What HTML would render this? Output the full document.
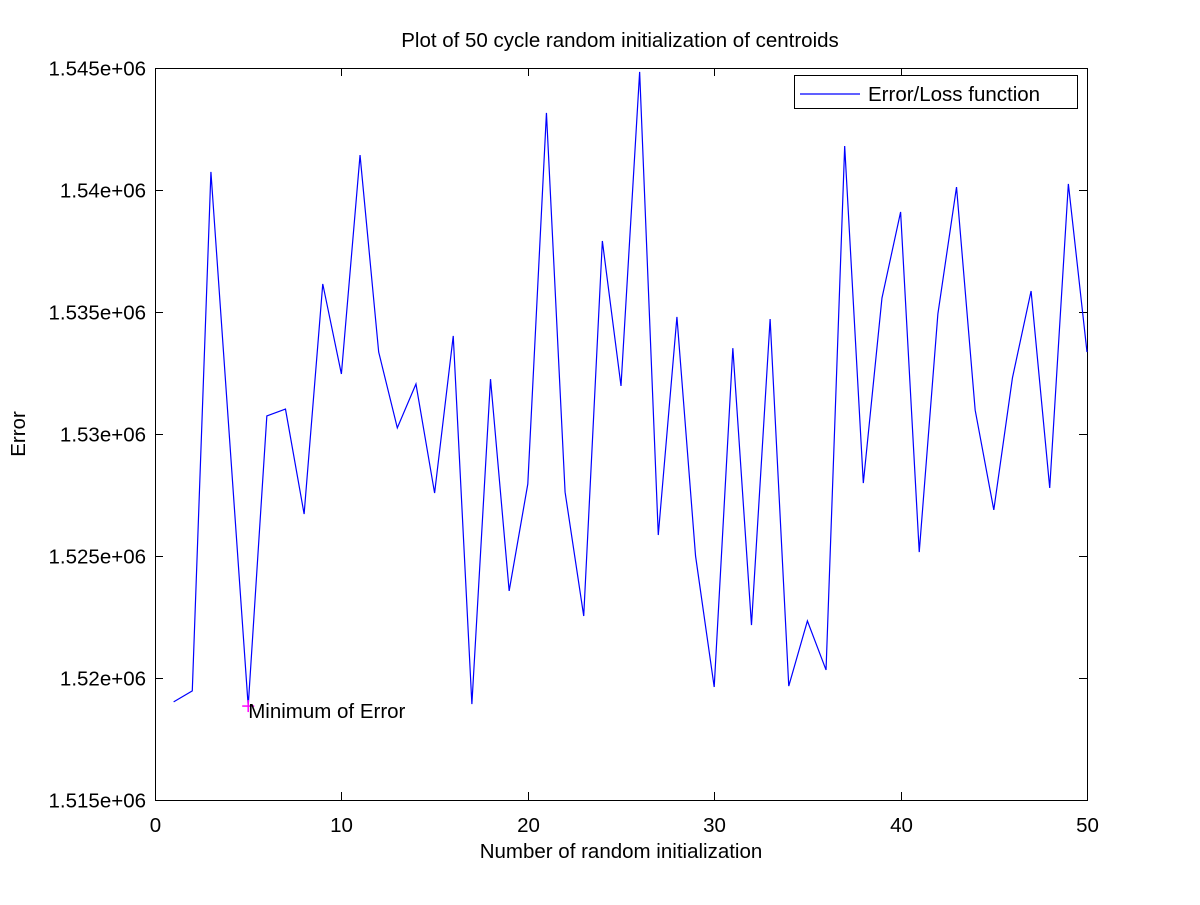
<!DOCTYPE html>
<html><head><meta charset="utf-8"><style>
body{margin:0;background:#fff}
svg text{font-family:"Liberation Sans",sans-serif;fill:#000}
</style></head><body>
<svg id="chart" width="1200" height="900" xmlns="http://www.w3.org/2000/svg">
<rect width="1200" height="900" fill="#fff"/>
<text x="620" y="47" font-size="20.5" text-anchor="middle">Plot of 50 cycle random initialization of centroids</text>
<g id="axes"></g>
<polyline id="series" fill="none" stroke="#0000ff" stroke-width="1.2"/>
<g id="minmark"></g>
<g>
<rect x="794.5" y="75.5" width="283" height="33" fill="#fff" stroke="#000"/>
<line x1="800" y1="94" x2="860" y2="94" stroke="#0000ff" stroke-width="1.2"/>
<text x="868" y="101" font-size="20.5">Error/Loss function</text>
</g>
<text x="621" y="858" font-size="20.5" text-anchor="middle">Number of random initialization</text>
<text x="25" y="434" font-size="20.5" text-anchor="middle" transform="rotate(-90 25 434)">Error</text>
</svg>
<script>
const xTicks=[0,10,20,30,40,50];
const yTicks=[1515000,1520000,1525000,1530000,1535000,1540000,1545000];
const yTickLabels=["1.515e+06","1.52e+06","1.525e+06","1.53e+06","1.535e+06","1.54e+06","1.545e+06"];
const errors=[1519020,1519470,1540740,1529800,1518850,1530740,1531020,1526720,1536150,1532460,
1541430,1533360,1530250,1532050,1527580,1534020,1518930,1532250,1523570,1527950,
1543160,1527620,1522540,1537910,1531970,1544840,1525860,1534800,1525000,1519630,
1533520,1522170,1534710,1519670,1522340,1520330,1541800,1527990,1535570,1539100,
1525160,1534920,1540120,1530980,1526890,1532300,1535860,1527790,1540250,1533360];
const minIndex=5, minValue=1518850;
const L=155,R=1087,T=68,B=800;
const sx=v=>L+(v-0)/(50-0)*(R-L);
const sy=v=>B-(v-1515000)/(1545000-1515000)*(B-T);
const NS="http://www.w3.org/2000/svg";
const ax=document.getElementById('axes');
function mk(tag,attrs,parent){const e=document.createElementNS(NS,tag);for(const k in attrs)e.setAttribute(k,attrs[k]);parent.appendChild(e);return e;}
const frame=mk('rect',{x:L+.5,y:T+.5,width:R-L,height:B-T,fill:'none',stroke:'#000'},ax);


xTicks.forEach(t=>{const x=Math.round(sx(t))+.5;
mk('line',{x1:x,y1:B,x2:x,y2:B-8,stroke:'#000'},ax);
mk('line',{x1:x,y1:T,x2:x,y2:T+8,stroke:'#000'},ax);
const tx=mk('text',{x:x,y:B+32,'font-size':20.5,'text-anchor':'middle'},ax);tx.textContent=t;

});
yTicks.forEach((t,i)=>{const y=Math.round(sy(t))+.5;
mk('line',{x1:L,y1:y,x2:L+8,y2:y,stroke:'#000'},ax);
mk('line',{x1:R,y1:y,x2:R-8,y2:y,stroke:'#000'},ax);
const tx=mk('text',{x:L-9,y:y+7,'font-size':20.5,'text-anchor':'end'},ax);tx.textContent=yTickLabels[i];

});
document.getElementById('series').setAttribute('points',errors.map((v,i)=>sx(i+1)+','+sy(v)).join(' '));
const mg=document.getElementById('minmark');
const mx=sx(minIndex),my=sy(minValue);
mk('line',{x1:mx-6,y1:my,x2:mx+6,y2:my,stroke:'#ff00ff','stroke-width':1.5},mg);
mk('line',{x1:mx,y1:my-6,x2:mx,y2:my+6,stroke:'#ff00ff','stroke-width':1.5},mg);


const ml=mk('text',{x:mx,y:my+12,'font-size':20.5},mg);ml.textContent='Minimum of Error';


</script>
</body></html>
